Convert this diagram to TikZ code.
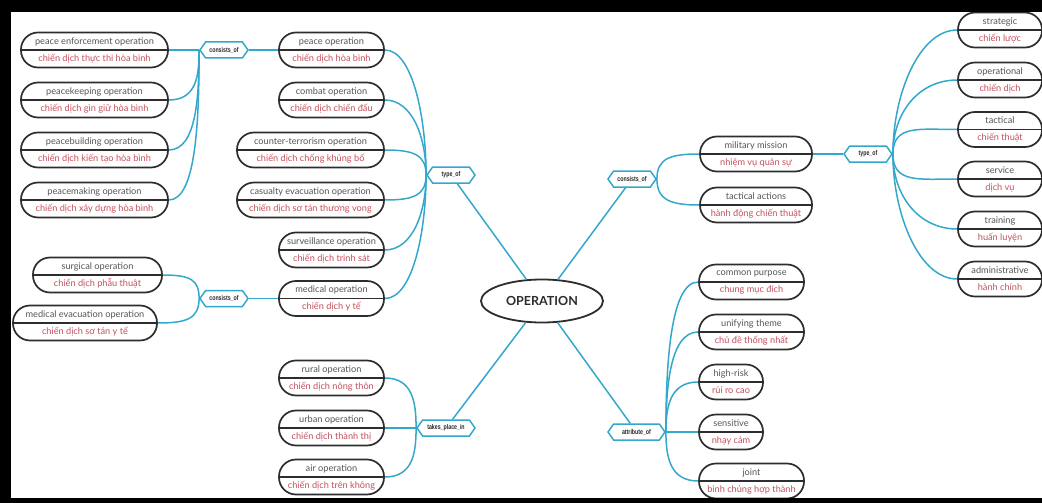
\documentclass[tikz,border=0pt]{standalone}
\usepackage{xcolor}
\usepackage{fontspec}
\setmainfont{Lato}
\newfontfamily\hubfont[FakeStretch=0.75]{Liberation Sans}
\usepackage{tikz}
\usetikzlibrary{calc}
\usetikzlibrary{shapes}
\usetikzlibrary{shapes.symbols}
\usetikzlibrary{shapes.geometric}
\definecolor{linkblue}{RGB}{52,168,204}
\definecolor{boxline}{RGB}{45,45,45}
\definecolor{engtext}{RGB}{85,85,85}
\definecolor{vnred}{RGB}{196,80,92}
\newcommand{\vn}[1]{{\color{vnred}#1}}
\tikzstyle{link} = [draw=linkblue, line width=1.5pt]
\tikzstyle{lbranch} = [link, out=0, out distance=28pt, in looseness=1.1]
\tikzstyle{rbranch} = [link, in=180, in distance=28pt, out looseness=1.1]
\tikzstyle{term} = [rectangle, rounded corners=17pt, draw=boxline, line width=1.7pt, fill=white, minimum height=35pt, inner xsep=2pt, align=center, text=engtext, font=\fontsize{9.2}{17}\selectfont, path picture={\draw [boxline, line width=1.7pt] (path picture bounding box.west) -- (path picture bounding box.east);}]
\tikzstyle{wide} = [term, minimum width=147pt]
\tikzstyle{mid} = [term, minimum width=105pt]
\tikzstyle{short} = [term, minimum width=84pt]
\tikzstyle{tiny} = [term, minimum width=64pt]
\tikzstyle{rel} = [signal, signal to=east and west, signal pointer angle=110, draw=linkblue, line width=1.5pt, fill=white, minimum height=16pt, inner sep=1pt, text=black!85, font={\hubfont\fontsize{7}{8}\selectfont\bfseries}]

\begin{document}
\begin{tikzpicture}[x=1pt, y=-1pt]
\useasboundingbox (0,0) rectangle (1042,503);
\node [ellipse, draw=boxline, line width=1.8pt, fill=white, minimum width=122pt, minimum height=43pt, text=boxline, font=\fontsize{12.5}{14}\selectfont\bfseries] (op) at (542, 301) {OPERATION};

% relation hubs
\node [rel, minimum width=48pt] (typeL) at (451, 175) {type\_of};
\node [rel, minimum width=48pt] (consA) at (224, 50) {consists\_of};
\node [rel, minimum width=48pt] (consB) at (224, 298.5) {consists\_of};
\node [rel, minimum width=58pt] (place) at (446, 428) {takes\_place\_in};
\node [rel, minimum width=48pt] (consR) at (632, 179) {consists\_of};
\node [rel, minimum width=48pt] (typeR) at (868, 154) {type\_of};
\node [rel, minimum width=57pt] (attr) at (636.5, 432) {attribute\_of};

% left side
\node [wide] (enforce) at (94.5, 50) {peace enforcement operation\\\vn{chiến dịch thực thi hòa bình}};
\node [wide] (keeping) at (94.5, 100) {peacekeeping operation\\\vn{chiến dịch gìn giữ hòa bình}};
\node [wide] (building) at (94.5, 150) {peacebuilding operation\\\vn{chiến dịch kiến tạo hòa bình}};
\node [wide] (making) at (94.5, 200) {peacemaking operation\\\vn{chiến dịch xây dựng hòa bình}};
\node [term, minimum width=129pt] (surgical) at (97.5, 275) {surgical operation\\\vn{chiến dịch phẫu thuật}};
\node [term, minimum width=144pt] (medevac) at (85, 323) {medical evacuation operation\\\vn{chiến dịch sơ tán y tế}};
\node [mid] (peace) at (331.5, 50) {peace operation\\\vn{chiến dịch hòa bình}};
\node [mid] (combat) at (331.5, 100) {combat operation\\\vn{chiến dịch chiến đấu}};
\node [wide] (counter) at (310.5, 150) {counter-terrorism operation\\\vn{chiến dịch chống khủng bố}};
\node [wide] (casualty) at (310.5, 200) {casualty evacuation operation\\\vn{chiến dịch sơ tán thương vong}};
\node [mid] (surveil) at (331.5, 250) {surveillance operation\\\vn{chiến dịch trinh sát}};
\node [mid] (medical) at (331.5, 298.5) {medical operation\\\vn{chiến dịch y tế}};
\node [mid] (rural) at (331.5, 378) {rural operation\\\vn{chiến dịch nông thôn}};
\node [mid] (urban) at (331.5, 428) {urban operation\\\vn{chiến dịch thành thị}};
\node [mid] (air) at (331.5, 477) {air operation\\\vn{chiến dịch trên không}};

% right side
\node [term, minimum width=112pt] (mission) at (756, 154) {military mission\\\vn{nhiệm vụ quân sự}};
\node [term, minimum width=112pt] (actions) at (756, 205) {tactical actions\\\vn{hành động chiến thuật}};
\node [short] (strategic) at (1000, 30) {strategic\\\vn{chiến lược}};
\node [short] (operational) at (1000, 80) {operational\\\vn{chiến dịch}};
\node [short] (tactical) at (1000, 129.5) {tactical\\\vn{chiến thuật}};
\node [short] (service) at (1000, 179) {service\\\vn{dịch vụ}};
\node [short] (training) at (1000, 229) {training\\\vn{huấn luyện}};
\node [short] (admin) at (1000, 279) {administrative\\\vn{hành chính}};
\node [mid] (purpose) at (751.5, 282) {common purpose\\\vn{chung mục đích}};
\node [mid] (theme) at (751.5, 332) {unifying theme\\\vn{chủ đề thống nhất}};
\node [tiny] (risk) at (731, 382) {high-risk\\\vn{rủi ro cao}};
\node [tiny] (sensitive) at (731, 432) {sensitive\\\vn{nhạy cảm}};
\node [mid] (joint) at (751.5, 481) {joint\\\vn{binh chủng hợp thành}};

% centre to hubs
\draw [link] (op) -- (typeL);
\draw [link] (op) -- (consR);
\draw [link] (op) -- (place);
\draw [link] (op) -- (attr);

\draw [link] (enforce.east) -- (consA.west);
\draw [lbranch] (keeping.east) to [in=-90] (consA.west);
\draw [lbranch] (building.east) to [in=-90] (consA.west);
\draw [lbranch] (making.east) to [in=-90] (consA.west);
\draw [link] (peace.west) -- (consA.east);

\draw [lbranch] (peace.east) to [in=90] (typeL.west);
\draw [lbranch] (combat.east) to [in=90] (typeL.west);
\draw [lbranch] (counter.east) to [in=90] (typeL.west);
\draw [lbranch] (casualty.east) to [in=-90] (typeL.west);
\draw [lbranch] (surveil.east) to [in=-90] (typeL.west);
\draw [lbranch] (medical.east) to [in=-90] (typeL.west);

\draw [link] (medical.west) -- (consB.east);
\draw [lbranch] (surgical.east) to [in=90] (consB.west);
\draw [lbranch] (medevac.east) to [in=-90] (consB.west);

\draw [lbranch] (rural.east) to [in=90] (place.west);
\draw [link] (urban.east) -- (place.west);
\draw [lbranch] (air.east) to [in=-90] (place.west);

\draw [rbranch] (consR.east) to [out=90] (mission.west);
\draw [rbranch] (consR.east) to [out=-90] (actions.west);
\draw [link] (mission.east) -- (typeR.west);

\draw [rbranch, in distance=38pt] (typeR.east) to [out=90] (strategic.west);
\draw [rbranch, in distance=38pt] (typeR.east) to [out=90] (operational.west);
\draw [rbranch, in distance=38pt] (typeR.east) to [out=90] (tactical.west);
\draw [rbranch, in distance=38pt] (typeR.east) to [out=-90] (service.west);
\draw [rbranch, in distance=38pt] (typeR.east) to [out=-90] (training.west);
\draw [rbranch, in distance=38pt] (typeR.east) to [out=-90] (admin.west);

\draw [rbranch] (attr.east) to [out=90] (purpose.west);
\draw [rbranch] (attr.east) to [out=90] (theme.west);
\draw [rbranch] (attr.east) to [out=90] (risk.west);
\draw [link] (attr.east) -- (sensitive.west);
\draw [rbranch] (attr.east) to [out=-90] (joint.west);

% frame
\fill [black] (0,0) rectangle (1042,12);
\fill [black] (0,0) rectangle (11,503);
\fill [black] (0,498) rectangle (1042,503);
\end{tikzpicture}
\end{document}
